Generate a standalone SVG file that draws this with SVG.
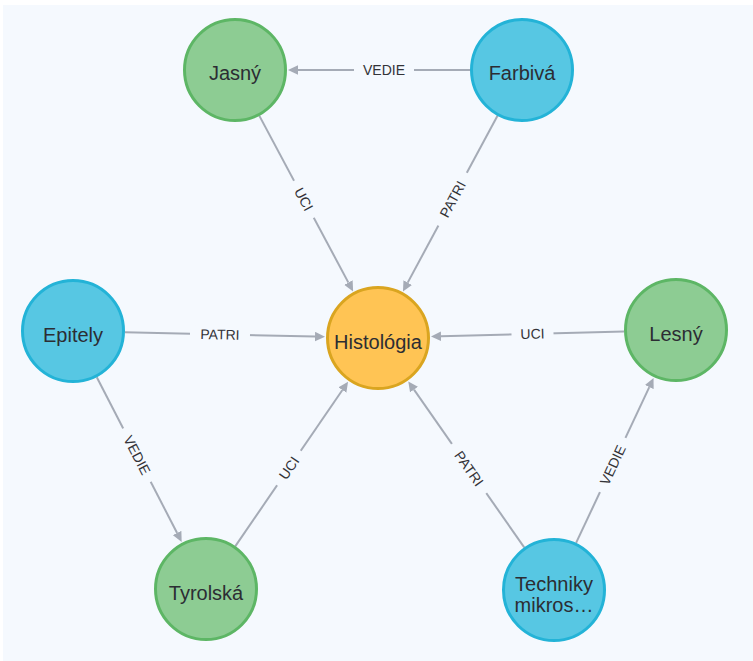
<svg xmlns="http://www.w3.org/2000/svg" width="753" height="661" viewBox="0 0 753 661">
  <style>
    .bg { fill: #f5f9fe; }
    .rel { stroke: #a5abb6; stroke-width: 2; fill: none; marker-end: url(#arrow); }
    .gap { fill: #f5f9fe; }
    .rlabel { font-family: "Liberation Sans", Arial, sans-serif; font-size: 14px; fill: #333338; text-anchor: middle; dominant-baseline: central; }
    .node circle { stroke-width: 3; }
    .green circle { fill: #8dcc93; stroke: #5db665; }
    .blue circle { fill: #57c7e3; stroke: #23b3d7; }
    .orange circle { fill: #ffc454; stroke: #daa520; }
    .nlabel { font-family: "Liberation Sans", Arial, sans-serif; font-size: 20px; fill: #2c2d33; text-anchor: middle; }
  </style>
  <defs>
    <marker id="arrow" viewBox="0 -5 10 10" refX="0" refY="0" markerWidth="10" markerHeight="10" markerUnits="userSpaceOnUse" orient="auto">
      <path d="M0,-4.8 L10,0 L0,4.8 Z" fill="#a5abb6"/>
    </marker>
  </defs>

  <rect x="0" y="0" width="753" height="661" fill="#ffffff"/>
  <rect class="bg" x="3" y="5" width="750" height="656"/>

  <g id="connectors">
    <!-- Farbivá -> Jasný : VEDIE -->
    <line class="rel" x1="470" y1="70" x2="298" y2="70"/>
    <g transform="translate(384,70)"><rect class="gap" x="-30" y="-8" width="60" height="16"/><text class="rlabel">VEDIE</text></g>

    <!-- Jasný -> Histológia : UCI -->
    <line class="rel" x1="259.4" y1="115.9" x2="348.4" y2="282.6"/>
    <g transform="translate(303.9,199.2) rotate(62)"><rect class="gap" x="-21" y="-8" width="42" height="16"/><text class="rlabel">UCI</text></g>

    <!-- Farbivá -> Histológia : PATRI -->
    <line class="rel" x1="497.5" y1="115.8" x2="407.7" y2="282.6"/>
    <g transform="translate(452.6,199.2) rotate(-61.8)"><rect class="gap" x="-30" y="-8" width="60" height="16"/><text class="rlabel">PATRI</text></g>

    <!-- Epitely -> Histológia : PATRI -->
    <line class="rel" x1="125" y1="332.2" x2="315" y2="336.6"/>
    <g transform="translate(220,334.4) rotate(1.3)"><rect class="gap" x="-30" y="-8" width="60" height="16"/><text class="rlabel">PATRI</text></g>

    <!-- Lesný -> Histológia : UCI -->
    <line class="rel" x1="624" y1="331.4" x2="441" y2="336.3"/>
    <g transform="translate(532.5,333.8) rotate(-1.5)"><rect class="gap" x="-21" y="-8" width="42" height="16"/><text class="rlabel">UCI</text></g>

    <!-- Epitely -> Tyrolská : VEDIE -->
    <line class="rel" x1="96.8" y1="377.2" x2="177.1" y2="533"/>
    <g transform="translate(137,455.1) rotate(62.7)"><rect class="gap" x="-30" y="-8" width="60" height="16"/><text class="rlabel">VEDIE</text></g>

    <!-- Tyrolská -> Histológia : UCI -->
    <line class="rel" x1="235.4" y1="546.1" x2="342.4" y2="390"/>
    <g transform="translate(288.9,468) rotate(-55.6)"><rect class="gap" x="-21" y="-8" width="42" height="16"/><text class="rlabel">UCI</text></g>

    <!-- Techniky mikros… -> Histológia : PATRI -->
    <line class="rel" x1="524.2" y1="547.4" x2="414" y2="389.6"/>
    <g transform="translate(469.1,468.5) rotate(55.1)"><rect class="gap" x="-30" y="-8" width="60" height="16"/><text class="rlabel">PATRI</text></g>

    <!-- Techniky mikros… -> Lesný : VEDIE -->
    <line class="rel" x1="576.1" y1="542.9" x2="649.3" y2="387.1"/>
    <g transform="translate(612.7,465) rotate(-64.9)"><rect class="gap" x="-30" y="-8" width="60" height="16"/><text class="rlabel">VEDIE</text></g>
  </g>

  <g id="node-jasny" class="node green">
    <circle cx="235" cy="70" r="50.5"/>
    <text class="nlabel" x="235" y="80">Jasný</text>
  </g>
  <g id="node-farbiva" class="node blue">
    <circle cx="522" cy="70" r="50.5"/>
    <text class="nlabel" x="522" y="80">Farbivá</text>
  </g>
  <g id="node-histologia" class="node orange">
    <circle cx="378" cy="338" r="50.5"/>
    <text class="nlabel" x="378" y="349">Histológia</text>
  </g>
  <g id="node-epitely" class="node blue">
    <circle cx="73" cy="331" r="50.5"/>
    <text class="nlabel" x="73" y="342">Epitely</text>
  </g>
  <g id="node-lesny" class="node green">
    <circle cx="676" cy="330" r="50.5"/>
    <text class="nlabel" x="676" y="341">Lesný</text>
  </g>
  <g id="node-tyrolska" class="node green">
    <circle cx="206" cy="589" r="50.5"/>
    <text class="nlabel" x="206" y="600">Tyrolská</text>
  </g>
  <g id="node-techniky" class="node blue">
    <circle cx="554" cy="590" r="50.5"/>
    <text class="nlabel" x="554" y="591">Techniky</text>
    <text class="nlabel" x="554" y="612">mikros…</text>
  </g>
</svg>
